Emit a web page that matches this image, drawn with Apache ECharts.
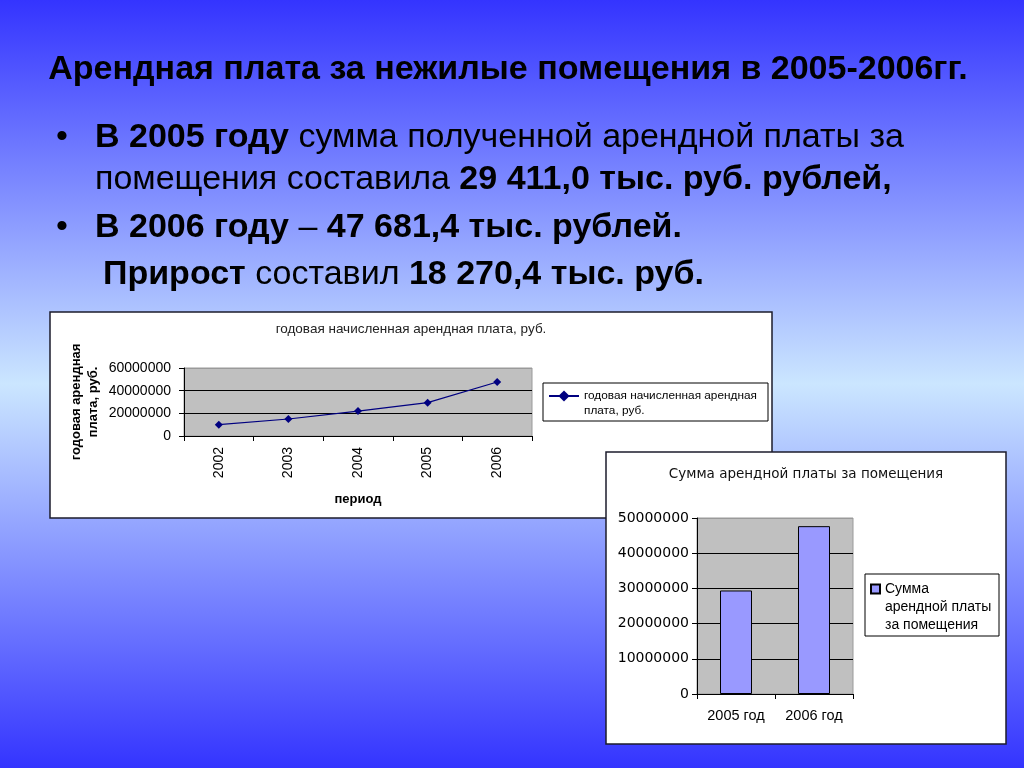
<!DOCTYPE html>
<html>
<head>
<meta charset="utf-8">
<title>Арендная плата за нежилые помещения</title>
<script src="https://cdn.jsdelivr.net/npm/echarts@6/dist/echarts.min.js"></script>
<style>
  html, body { margin: 0; padding: 0; }
  #chart { width: 1024px; height: 768px; }
</style>
</head>
<body>
<div id="chart"></div>
<script>
// line chart: annual accrued rent
const rentYears = ["2002", "2003", "2004", "2005", "2006"];
const rentValues = [10000000, 15000000, 22000000, 29411000, 47681400];
const rentName = "годовая начисленная арендная плата, руб.";

// bar chart: rent received
const sumYears = ["2005 год", "2006 год"];
const sumValues = [29411000, 47681400];
const sumName = "Сумма арендной платы за помещения";

const ARIAL = '"Liberation Sans", Arial, sans-serif';
const DEJAVU = '"DejaVu Sans", sans-serif';

const plain = (v) => String(v); // no thousands separators, like the original

const chart = echarts.init(document.getElementById("chart"), null, {
  renderer: "canvas",
});

function panel(x, y, w, h) {
  return {
    type: "rect",
    z: -10,
    shape: { x: x, y: y, width: w, height: h },
    style: { fill: "#fff", stroke: "#1c1c2c", lineWidth: 1.5 },
  };
}

function box(x, y, w, h) {
  return {
    type: "rect",
    z: 10,
    shape: { x: x, y: y, width: w, height: h },
    style: { fill: "none", stroke: "#000", lineWidth: 1 },
  };
}

function line(y, x, text) {
  return {
    type: "text",
    x: x,
    y: y,
    style: {
      text: text,
      fontSize: 34,
      fontFamily: ARIAL,
      fill: "#000",
      verticalAlign: "middle",
      rich: {
        b: { fontSize: 34, fontFamily: ARIAL, fontWeight: "bold", fill: "#000" },
        n: { fontSize: 34, fontFamily: ARIAL, fill: "#000" },
      },
    },
  };
}

const option = {
  backgroundColor: new echarts.graphic.LinearGradient(0, 0, 0, 1, [
    { offset: 0, color: "#3434ff" },
    { offset: 0.5, color: "#cbe6ff" },
    { offset: 1, color: "#3434ff" },
  ]),
  animation: false,
  graphic: [
    panel(50, 312, 722, 206),
    panel(606, 452, 400, 292),
    box(543, 383, 225, 38),
    box(865, 574, 134, 62),
    {
      type: "text",
      x: 508,
      y: 70,
      style: {
        text: "Арендная плата за нежилые помещения в 2005-2006гг.",
        fontSize: 34,
        fontWeight: "bold",
        fontFamily: ARIAL,
        fill: "#000",
        align: "center",
        verticalAlign: "middle",
      },
    },
    line(138, 56, "•"),
    line(228, 56, "•"),
    line(138, 95, "{b|В 2005 году} {n|сумма полученной арендной платы за}"),
    line(180, 95, "{n|помещения составила} {b|29 411,0 тыс. руб. рублей,}"),
    line(228, 95, "{b|В 2006 году} {n|–} {b|47 681,4 тыс. рублей.}"),
    line(275, 103, "{b|Прирост} {n|составил} {b|18 270,4 тыс. руб.}"),
    {
      type: "text",
      x: 411,
      y: 329,
      style: {
        text: rentName,
        fontSize: 13.5,
        fontFamily: ARIAL,
        fill: "#222",
        align: "center",
        verticalAlign: "middle",
      },
    },
    {
      type: "text",
      x: 806,
      y: 474,
      style: {
        text: sumName,
        fontSize: 13.5,
        fontFamily: DEJAVU,
        fill: "#111",
        align: "center",
        verticalAlign: "middle",
      },
    },
  ],
  legend: [
    {
      data: [rentName],
      left: 548,
      top: 373.5,
      padding: 0,
      itemWidth: 30,
      itemHeight: 14,
      // leading blank line keeps the marker level with the first text line
      formatter: () => "\nгодовая начисленная арендная\nплата, руб.",
      textStyle: {
        fontSize: 11.8,
        fontFamily: ARIAL,
        color: "#000",
        lineHeight: 15,
      },
    },
    {
      data: [sumName],
      left: 870,
      top: 544,
      padding: 0,
      icon: "rect",
      itemWidth: 9,
      itemHeight: 9,
      formatter: () => "\n\nСумма\nарендной платы\nза помещения",
      textStyle: {
        fontSize: 14,
        fontFamily: ARIAL,
        color: "#000",
        lineHeight: 18,
      },
    },
  ],
  grid: [
    {
      left: 184,
      top: 368,
      width: 348,
      height: 68,
      show: true,
      backgroundColor: "#c0c0c0",
      borderColor: "#9a9a9a",
      borderWidth: 1,
    },
    {
      left: 697,
      top: 518,
      width: 156,
      height: 176,
      show: true,
      backgroundColor: "#c0c0c0",
      borderColor: "#9a9a9a",
      borderWidth: 1,
    },
  ],
  xAxis: [
    {
      gridIndex: 0,
      type: "category",
      data: rentYears,
      boundaryGap: true,
      name: "период",
      nameLocation: "middle",
      nameGap: 57,
      nameTextStyle: { fontSize: 13, fontWeight: "bold", fontFamily: ARIAL, color: "#000" },
      axisLine: { lineStyle: { color: "#000", width: 1 } },
      axisTick: { show: true, length: 5, lineStyle: { color: "#000" } },
      axisLabel: { interval: 0, rotate: 90, margin: 11, fontSize: 14, fontFamily: ARIAL, color: "#000" },
      splitLine: { show: false },
    },
    {
      gridIndex: 1,
      type: "category",
      data: sumYears,
      boundaryGap: true,
      axisLine: { lineStyle: { color: "#000", width: 1 } },
      axisTick: { show: true, length: 5, lineStyle: { color: "#000" } },
      axisLabel: { interval: 0, margin: 14, fontSize: 14.5, fontFamily: ARIAL, color: "#000" },
      splitLine: { show: false },
    },
  ],
  yAxis: [
    {
      gridIndex: 0,
      type: "value",
      min: 0,
      max: 60000000,
      interval: 20000000,
      name: "годовая арендная\nплата, руб.",
      nameLocation: "middle",
      nameRotate: 90,
      nameGap: 82,
      nameTextStyle: {
        fontSize: 13,
        fontWeight: "bold",
        fontFamily: ARIAL,
        color: "#000",
        lineHeight: 17,
      },
      axisLine: { show: true, lineStyle: { color: "#000", width: 1 } },
      axisTick: { show: true, length: 5, lineStyle: { color: "#000" } },
      axisLabel: { margin: 13, fontSize: 14, fontFamily: ARIAL, color: "#000", formatter: plain },
      splitLine: {
        show: true,
        lineStyle: { color: ["#000", "#000", "#000", "#9a9a9a"], width: 1 },
      },
    },
    {
      gridIndex: 1,
      type: "value",
      min: 0,
      max: 50000000,
      interval: 10000000,
      axisLine: { show: true, lineStyle: { color: "#000", width: 1 } },
      axisTick: { show: true, length: 5, lineStyle: { color: "#000" } },
      axisLabel: { margin: 8, fontSize: 14, fontFamily: DEJAVU, color: "#000", formatter: plain },
      splitLine: {
        show: true,
        lineStyle: {
          color: ["#000", "#000", "#000", "#000", "#000", "#9a9a9a"],
          width: 1,
        },
      },
    },
  ],
  series: [
    {
      name: rentName,
      type: "line",
      xAxisIndex: 0,
      yAxisIndex: 0,
      data: rentValues,
      symbol: "diamond",
      symbolSize: 8,
      lineStyle: { color: "#000080", width: 1.2 },
      itemStyle: { color: "#000080" },
    },
    {
      name: sumName,
      type: "bar",
      xAxisIndex: 1,
      yAxisIndex: 1,
      data: sumValues,
      barWidth: 32,
      itemStyle: { color: "#9999ff", borderColor: "#000", borderWidth: 1 },
    },
  ],
};

chart.setOption(option);
</script>
</body>
</html>
